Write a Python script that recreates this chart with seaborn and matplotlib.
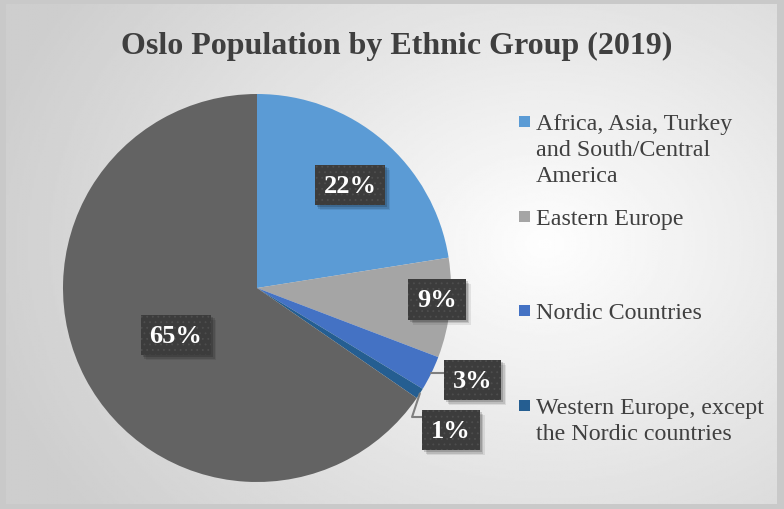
import numpy as np
import matplotlib.pyplot as plt
import seaborn as sns
from matplotlib.patches import Rectangle

# --- data ---
groups = [
    'Africa, Asia, Turkey\nand South/Central\nAmerica',
    'Eastern Europe',
    'Nordic Countries',
    'Western Europe, except\nthe Nordic countries',
    'Rest of population',
]
shares = [22.5, 8.3, 2.9, 0.9, 65.4]
pct_labels = ['22%', '9%', '3%', '1%', '65%']
colors = ['#5B9BD5', '#A5A5A5', '#4472C4', '#255E91', '#636363']

# label placement (radius, angle offset from wedge middle) - layout only
label_r = [0.715, 0.93, 1.21, 1.24, 0.483]
label_dang = [-1.6, 2.3, 3.0, -3.3, 2.5]
legend_rows = [122, 217, 311, 406]   # px from top, first line of each entry

sns.set_theme(style='white')
plt.rcParams['font.family'] = ['Liberation Serif', 'DejaVu Serif']
plt.rcParams['hatch.linewidth'] = 0.6

W, H = 784, 510
fig = plt.figure(figsize=(W / 100, H / 100), dpi=100)
fig.patch.set_facecolor('#c9c9c9')

# radial gradient background
bg = fig.add_axes([6 / W, 5 / H, 771 / W, 500 / H])
yy, xx = np.mgrid[0:1:300j, 0:1:400j]
d = np.sqrt(((xx - 0.70) / 0.75) ** 2 + ((yy - 0.48) / 0.9) ** 2)
grad = 0.995 - 0.19 * np.clip(d, 0, 1)
bg.imshow(grad, cmap='gray', vmin=0, vmax=1, extent=(0, 1, 0, 1),
          aspect='auto', origin='upper', interpolation='bilinear')
bg.set_axis_off()

# pie axes: centre (257, 289) px, radius 194 px
cx, cy, r = 257, 289, 194
ax = fig.add_axes([(cx - r) / W, (H - cy - r) / H, 2 * r / W, 2 * r / H])
wedges, _ = ax.pie(shares, colors=colors, startangle=90, counterclock=False,
                   radius=1.0, wedgeprops=dict(linewidth=0))
ax.set_xlim(-1, 1)
ax.set_ylim(-1, 1)
ax.set_aspect('auto')
ax.set_axis_off()

# leader lines for the small slices
for i in (2, 3):
    w = wedges[i]
    mid = np.deg2rad((w.theta1 + w.theta2) / 2)
    ex, ey = np.cos(mid), np.sin(mid)
    if i == 2:
        ax.plot([ex, ex + 0.08], [ey, ey], color='#7f7f7f', lw=1.5,
                zorder=3, clip_on=False)
    else:
        ax.plot([ex, ex - 0.04, ex + 0.03], [ey, -0.665, -0.665],
                color='#7f7f7f', lw=1.5, zorder=3, clip_on=False)

# data labels: dark dotted boxes
label_texts = []
for w, lab, lr, da in zip(wedges, pct_labels, label_r, label_dang):
    mid = np.deg2rad((w.theta1 + w.theta2) / 2 + da)
    t = ax.text(lr * np.cos(mid), lr * np.sin(mid), lab, color='white',
                fontsize=19, fontweight='bold', ha='center', va='center',
                zorder=5, clip_on=False,
                bbox=dict(boxstyle='square,pad=0.33', facecolor='#3c3c3c',
                          edgecolor='#4e4e4e', hatch='...', linewidth=0))
    label_texts.append(t)

# soft drop shadows behind the label boxes
fig.canvas.draw()
for t in label_texts:
    bb = t.get_bbox_patch().get_window_extent()
    for off, a in ((5, 0.08), (3.5, 0.12), (2, 0.16)):
        ax.add_patch(Rectangle(((bb.x0 + off) / W, (bb.y0 - off) / H),
                               bb.width / W, bb.height / H,
                               transform=fig.transFigure, facecolor='black',
                               alpha=a, linewidth=0, zorder=4, clip_on=False))

# title
fig.text(397 / W, 1 - 46 / H, 'Oslo Population by Ethnic Group (2019)',
         ha='center', va='center', fontsize=23, fontweight='bold', color='#3f3f3f')

# legend (first four entries; the fifth is cut off in the original)
for lab, col, row in zip(groups[:4], colors[:4], legend_rows):
    fig.add_artist(Rectangle((519 / W, 1 - (row + 5.5) / H), 11 / W, 11 / H,
                             transform=fig.transFigure, facecolor=col,
                             edgecolor='none'))
    fig.text(536 / W, 1 - (row - 8) / H, lab, ha='left', va='top',
             fontsize=17.3, color='#404040', linespacing=1.32)

fig.savefig('out.png', dpi=100, facecolor=fig.get_facecolor())
